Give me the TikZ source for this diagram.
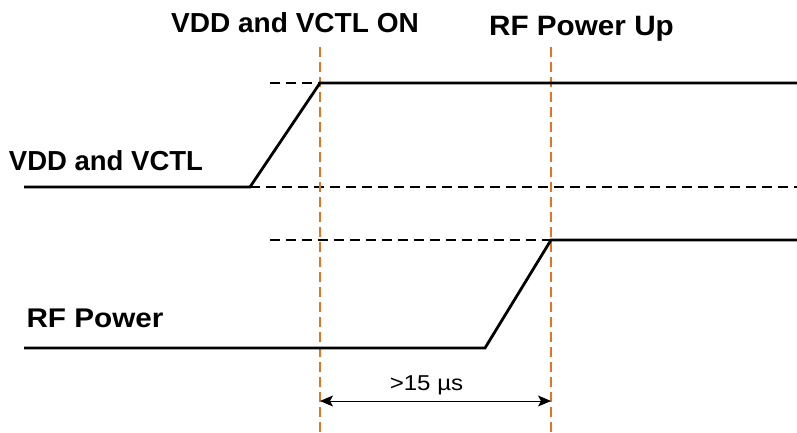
\documentclass[tikz,border=0pt]{standalone}
\usepackage{graphicx}
\usepackage{fontspec}
\setmainfont{Liberation Sans}
\usetikzlibrary{arrows.meta}
\definecolor{markorange}{RGB}{230,115,30}
\tikzset{
  signal/.style={line width=2.8pt, line join=miter},
  refline/.style={line width=1.2pt, dash pattern=on 10pt off 6pt},
  marker/.style={line width=1.4pt, markorange, dash pattern=on 10pt off 5pt},
  span/.style={line width=0.9pt, {Stealth[length=13pt,width=11pt,inset=3pt]}-{Stealth[length=13pt,width=11pt,inset=3pt]}},
  biglabel/.style={font=\bfseries, inner sep=0pt, anchor=base},
  smalllabel/.style={inner sep=0pt, anchor=base}
}
\newcommand{\lbl}[3]{\scalebox{#2}[1]{\fontsize{#1}{#1}\selectfont #3}}
\begin{document}
\begin{tikzpicture}[x=1pt,y=-1pt]
\useasboundingbox (0,0) rectangle (797,432);
% coordinates
\coordinate (v0) at (24,187);
\coordinate (v1) at (250,187);
\coordinate (v2) at (320,83);
\coordinate (v3) at (797,83);
\coordinate (r0) at (24,348);
\coordinate (r1) at (485,348);
\coordinate (r2) at (551,240);
\coordinate (r3) at (797,240);
\coordinate (dh1) at (270,83);
\coordinate (dl1) at (797,187);
\coordinate (dh2) at (270,240);
\coordinate (m1t) at (320,47);
\coordinate (m1b) at (320,432);
\coordinate (m2t) at (551,47);
\coordinate (m2b) at (551,432);
\coordinate (a1) at (320,401);
\coordinate (a2) at (551,401);
% reference dashed lines
\draw[refline] (dh1) -- (v2);
\draw[refline] (v1) -- (dl1);
\draw[refline] (dh2) -- (r2);
% markers
\draw[marker] (m1t) -- (m1b);
\draw[marker] (m2t) -- (m2b);
% signals
\draw[signal] (v0) -- (v1) -- (v2) -- (v3);
\draw[signal] (r0) -- (r1) -- (r2) -- (r3);
% span arrow
\draw[span] (a1) -- (a2);
% labels
\node[biglabel] (lon) at (295,32) {\lbl{27.5}{1.02}{VDD and VCTL ON}};
\node[biglabel] (lup) at (581.5,35) {\lbl{28}{1.06}{RF Power Up}};
\node[biglabel] (lvdd) at (106,170) {\lbl{27.5}{1.0}{VDD and VCTL}};
\node[biglabel] (lrf) at (95,327) {\lbl{27}{1.1}{RF Power}};
\node[smalllabel] (lt) at (426.5,390) {\lbl{21.5}{1.12}{>15 µs}};
\end{tikzpicture}
\end{document}
